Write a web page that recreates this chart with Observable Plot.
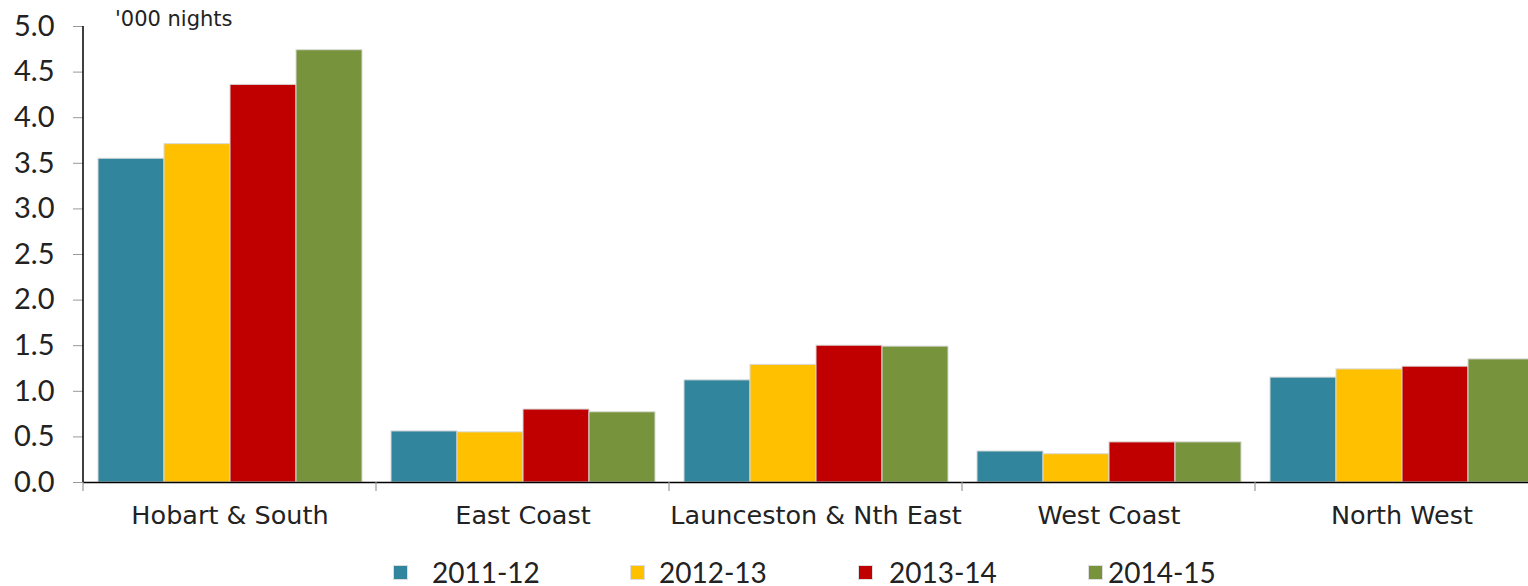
<!DOCTYPE html>
<html>
<head>
<meta charset="utf-8">
<script src="https://cdn.jsdelivr.net/npm/d3@7"></script>
<script src="https://cdn.jsdelivr.net/npm/@observablehq/plot@0.6"></script>
<style>
  html, body { margin: 0; padding: 0; background: #fff; overflow: hidden; }
  body { width: 1528px; height: 586px; position: relative; font-family: Lato, "Liberation Sans", sans-serif; color: #222; }
  #unit { position: absolute; left: 115px; top: 7px; font-size: 21px; color: #222; font-family: "DejaVu Sans", sans-serif; }
  #legend { position: relative; height: 46px; }
  .item { position: absolute; top: 17px; display: flex; align-items: center; font-size: 28px; line-height: 30px; }
  .sw { width: 15px; height: 15px; margin-right: 24px; box-sizing: border-box; border: 1px solid #ddd; }
  svg { display: block; overflow: hidden; }
</style>
</head>
<body>
<div id="chart"></div>
<div id="legend"></div>
<div id="unit">'000 nights</div>
<script>
const regions = ["Hobart & South", "East Coast", "Launceston & Nth East", "West Coast", "North West"];
const years = ["2011-12", "2012-13", "2013-14", "2014-15"];
const colors = ["#31859C", "#FFC000", "#C00000", "#77933C"];
const v2011 = [3.55, 0.56, 1.12, 0.34, 1.15];
const v2012 = [3.71, 0.55, 1.29, 0.31, 1.24];
const v2013 = [4.36, 0.80, 1.50, 0.44, 1.27];
const v2014 = [4.74, 0.77, 1.49, 0.44, 1.35];
const yTicks = [0, 0.5, 1, 1.5, 2, 2.5, 3, 3.5, 4, 4.5, 5];

const series = [v2011, v2012, v2013, v2014];
const data = [];
regions.forEach((r, i) => years.forEach((y, j) => data.push({region: r, year: y, value: series[j][i]})));

const plot = Plot.plot({
  width: 1528,
  height: 540,
  marginTop: 26,
  marginBottom: 58,
  marginLeft: 82,
  marginRight: -20.5,
  style: {fontFamily: "Lato, 'Liberation Sans', sans-serif", color: "#222", background: "#fff"},
  fx: {domain: regions, padding: 0, label: null},
  x: {domain: years, paddingInner: 0, paddingOuter: 0.2, axis: null},
  y: {domain: [0, 5], label: null},
  color: {domain: years, range: colors},
  marks: [
    Plot.barY(data, {fx: "region", x: "year", y: "value", fill: "year", stroke: "#d9d9d9", strokeWidth: 1, inset: 0}),
    Plot.ruleY([0], {stroke: "#000", strokeWidth: 1.5}),
    Plot.axisY({ticks: yTicks, tickFormat: d3.format(".1f"), tickSize: 10, tickPadding: 19, stroke: "#999", fill: "#222", fontSize: 29, label: null}),
    Plot.axisFx({anchor: "bottom", tickSize: 0, tickPadding: 23, fontSize: 25.5, fontFamily: "DejaVu Sans, sans-serif", fill: "#222", label: null})
  ]
});
document.getElementById("chart").appendChild(plot);

// axis line and category separators, positioned through the plot's scales
const fx = plot.scale("fx");
const y = plot.scale("y");
const svg = d3.select(plot);
const y0 = y.apply(0), y5 = y.apply(5);
const left = fx.apply(regions[0]);
svg.append("line").attr("x1", left).attr("x2", left).attr("y1", y5).attr("y2", y0)
  .attr("stroke", "#000").attr("stroke-width", 1.5);
regions.forEach(r => {
  const bx = fx.apply(r);
  svg.append("line").attr("x1", bx).attr("x2", bx).attr("y1", y0).attr("y2", y0 + 9)
    .attr("stroke", "#999").attr("stroke-width", 1.2);
});

// legend
const legend = d3.select("#legend");
const legendLeft = [393, 630, 858, 1088];
const legendGap = [24, 14, 16, 5];
years.forEach((yr, i) => {
  const it = legend.append("div").attr("class", "item").style("left", legendLeft[i] + "px");
  it.append("div").attr("class", "sw").style("background", colors[i]).style("margin-right", legendGap[i] + "px");
  it.append("span").text(yr);
});
</script>
</body>
</html>
